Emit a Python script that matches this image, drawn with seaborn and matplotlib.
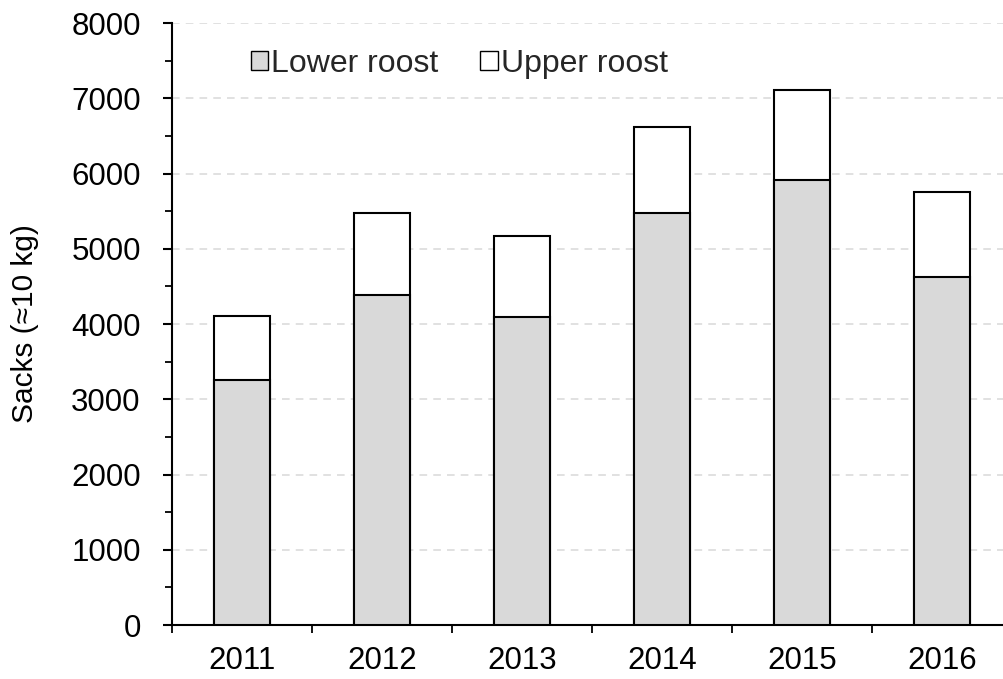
import numpy as np
import pandas as pd
import seaborn as sns
import matplotlib.pyplot as plt
from matplotlib.patches import Patch
from matplotlib.ticker import MultipleLocator, FixedLocator

# values
years = ["2011", "2012", "2013", "2014", "2015", "2016"]
lower_roost = [3250, 4380, 4090, 5480, 5910, 4630]
upper_roost = [850, 1090, 1080, 1140, 1200, 1120]

df = pd.DataFrame({"year": years, "lower": lower_roost, "upper": upper_roost})
df["total"] = df["lower"] + df["upper"]

sns.set_theme(style="white")
plt.rcParams["font.family"] = ["Liberation Sans", "DejaVu Sans"]

fig = plt.figure(figsize=(10.04, 6.79), dpi=100)
ax = fig.add_axes([0.1713, 0.0795, 0.8287, 0.8866])

# stacked bars: full height in white, lower part in grey on top
sns.barplot(data=df, x="year", y="total", color="white", width=0.4,
            edgecolor="black", linewidth=1.5, saturation=1, ax=ax, zorder=2)
sns.barplot(data=df, x="year", y="lower", color="#d9d9d9", width=0.4,
            edgecolor="black", linewidth=1.5, saturation=1, ax=ax, zorder=3)

ax.set_ylim(0, 8000)
ax.set_xlim(-0.5, 5.443)
ax.yaxis.set_major_locator(MultipleLocator(1000))
ax.yaxis.set_minor_locator(MultipleLocator(500))
ax.grid(axis="y", which="major", color="#d9d9d9", linestyle=(0, (5, 4)), linewidth=1.1, zorder=0)
ax.set_axisbelow(True)

# category boundaries as minor ticks on x
ax.xaxis.set_minor_locator(FixedLocator(np.arange(-0.5, 6, 1)))
ax.tick_params(axis="x", which="major", length=0, pad=15, labelsize=22.5, colors="black")
ax.tick_params(axis="x", which="minor", direction="out", length=6, width=1.3, bottom=True, color="black")
ax.tick_params(axis="y", which="major", direction="out", length=6.5, width=1.5, pad=16,
               labelsize=22.5, left=True, colors="black")
ax.tick_params(axis="y", which="minor", direction="out", length=5, width=1.3, left=True, color="black")

for side in ["top", "right"]:
    ax.spines[side].set_visible(False)
for side in ["left", "bottom"]:
    ax.spines[side].set_color("black")
    ax.spines[side].set_linewidth(1.5)

ax.set_xlabel("")
ax.set_ylabel("Sacks (≈10 kg)", fontsize=21.5, labelpad=23, color="black")

handles = [Patch(facecolor="#d9d9d9", edgecolor="black", linewidth=1.0, label="Lower roost"),
           Patch(facecolor="white", edgecolor="black", linewidth=1.0, label="Upper roost")]
ax.legend(handles=handles, loc="upper left", bbox_to_anchor=(0.06, 1.005), ncol=2, frameon=False,
          fontsize=23, handlelength=0.55, handleheight=0.55, handletextpad=0.1, columnspacing=1.3)

fig.savefig("out.png", dpi=100)
